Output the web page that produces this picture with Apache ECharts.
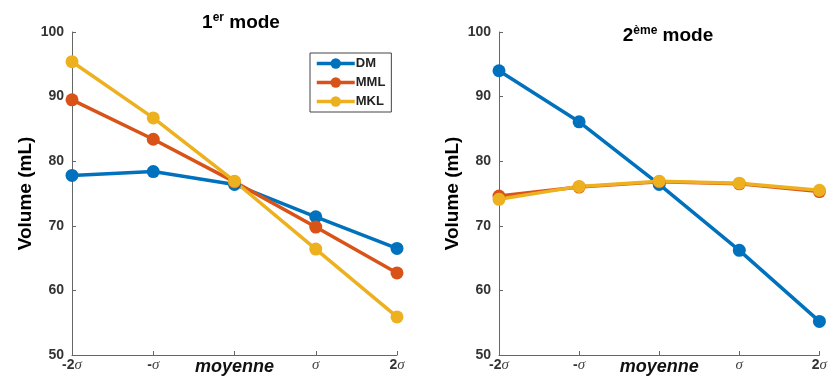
<!DOCTYPE html>
<html><head><meta charset="utf-8">
<script src="https://cdn.jsdelivr.net/npm/echarts@6/dist/echarts.min.js"></script>
<style>html,body{margin:0;padding:0;background:#fff}#c{width:830px;height:382px}</style>
</head><body><div id="c"></div>
<script>
const categories = ['-2σ', '-σ', 'moyenne', 'σ', '2σ'];
const yTicks = [50, 60, 70, 80, 90, 100];
const mode1DM  = [77.8, 78.4, 76.4, 71.4, 66.5];
const mode1MML = [89.5, 83.4, 76.8, 69.8, 62.7];
const mode1MKL = [95.4, 86.7, 76.9, 66.4, 55.9];
const mode2DM  = [94.0, 86.1, 76.4, 66.2, 55.2];
const mode2MML = [74.6, 76.0, 76.8, 76.5, 75.3];
const mode2MKL = [74.1, 76.1, 76.9, 76.6, 75.5];
const colors = { DM: '#0072BD', MML: '#D95319', MKL: '#EDB120' };

const chart = echarts.init(document.getElementById('c'));
const F = 'Liberation Sans, Arial, sans-serif';

function xAxis(gi) {
  return {
    type: 'category', gridIndex: gi, data: categories, boundaryGap: false,
    axisLine: { lineStyle: { color: '#666', width: 1 } },
    axisTick: { inside: true, length: 4, interval: 0, lineStyle: { color: '#666' } },
    axisLabel: {
      margin: 3, interval: 0, hideOverlap: false,
      formatter: v => v === 'moyenne' ? '{m|moyenne}' : '{n|' + v.replace('σ', '') + '}{s|σ}',
      rich: {
        m: { fontFamily: F, fontWeight: 'bold', fontStyle: 'italic', fontSize: 18, color: '#111' },
        n: { fontFamily: F, fontWeight: 'bold', fontSize: 14, color: '#333' },
        s: { fontFamily: 'Liberation Serif, serif', fontStyle: 'italic', fontSize: 15, color: '#444' }
      }
    },
    splitLine: { show: false }
  };
}
function yAxis(gi) {
  return {
    type: 'value', gridIndex: gi, min: yTicks[0], max: yTicks[yTicks.length - 1], interval: 10,
    name: 'Volume (mL)', nameLocation: 'middle', nameGap: 37,
    nameTextStyle: { fontFamily: F, fontWeight: 'bold', fontSize: 19, color: '#000' },
    axisLine: { show: true, lineStyle: { color: '#666', width: 1 } },
    axisTick: { show: true, inside: true, length: 4, lineStyle: { color: '#666' } },
    axisLabel: { fontFamily: F, fontWeight: 'bold', fontSize: 14, color: '#333', margin: 8 },
    splitLine: { show: false }
  };
}
function series(name, data, gi) {
  return {
    name, type: 'line', xAxisIndex: gi, yAxisIndex: gi, data,
    color: colors[name], symbol: 'circle', symbolSize: 13,
    lineStyle: { width: 3.5 }, itemStyle: { color: colors[name] },
    emphasis: { disabled: true }, animation: false
  };
}

chart.setOption({
  animation: false,
  title: [
    { text: '{a|1}{sup|er}{a| mode}', left: 236, top: 7, textAlign: 'center',
      textStyle: { rich: {
        a: { fontFamily: F, fontWeight: 'bold', fontSize: 19, color: '#000' },
        sup: { fontFamily: F, fontWeight: 'bold', fontSize: 12, color: '#000', verticalAlign: 'top', padding: [0, 0, 10, 0] } } } },
    { text: '{a|2}{sup|ème}{a| mode}', left: 663, top: 20, textAlign: 'center',
      textStyle: { rich: {
        a: { fontFamily: F, fontWeight: 'bold', fontSize: 19, color: '#000' },
        sup: { fontFamily: F, fontWeight: 'bold', fontSize: 12, color: '#000', verticalAlign: 'top', padding: [0, 0, 10, 0] } } } }
  ],
  legend: {
    data: ['DM', 'MML', 'MKL'], orient: 'vertical', left: 310, top: 53,
    itemWidth: 38, itemHeight: 13, itemGap: 6,
    lineStyle: { width: 3.5 },
    borderColor: '#444', borderWidth: 1, padding: [4, 6, 4, 5],
    textStyle: { fontFamily: F, fontWeight: 'bold', fontSize: 13, color: '#222', padding: [0, 0, 0, -4] }
  },
  grid: [
    { left: 72, right: 433, top: 32, bottom: 27 },
    { left: 499, right: 8, top: 32, bottom: 27 }
  ],
  xAxis: [xAxis(0), xAxis(1)],
  yAxis: [yAxis(0), yAxis(1)],
  series: [
    series('DM', mode1DM, 0), series('MML', mode1MML, 0), series('MKL', mode1MKL, 0),
    series('DM', mode2DM, 1), series('MML', mode2MML, 1), series('MKL', mode2MKL, 1)
  ]
});
</script></body></html>
